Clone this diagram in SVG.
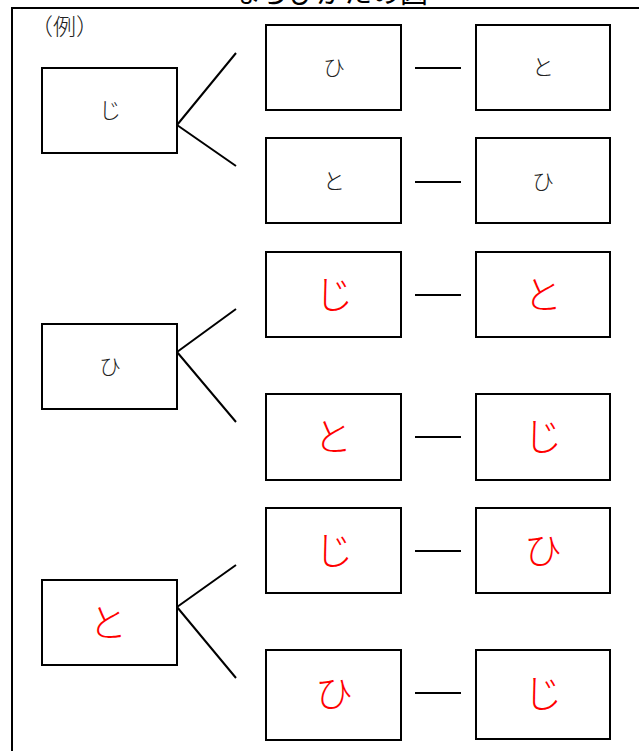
<svg xmlns="http://www.w3.org/2000/svg" width="639" height="751" viewBox="0 0 639 751">
<style>
.box{fill:#fff;stroke:#000;stroke-width:2}
.ln{stroke:#000;stroke-width:2;fill:none}
.k{font-family:"Noto Sans CJK JP","Noto Sans CJK SC",sans-serif;font-size:22px;fill:#222;text-anchor:middle;font-weight:300}
.r{font-family:"Noto Sans CJK JP","Noto Sans CJK SC",sans-serif;font-size:38px;fill:#f00;text-anchor:middle;font-weight:300}
.t{font-family:"Noto Sans CJK JP","Noto Sans CJK SC",sans-serif;font-size:23px;fill:#222;font-weight:300}
</style>
<rect width="639" height="751" fill="#fff"/>
<text x="330" y="3" font-family="Noto Sans CJK JP,sans-serif" font-size="28" text-anchor="middle" fill="#000">ならびかたの図</text>
<path class="ln" d="M12,751 V8 H639"/>
<text class="t" x="30" y="35">（例）</text>
<g id="connectors">
<path class="ln" d="M177,125 L236,53 M177,125 L236,166"/>
<path class="ln" d="M177,352 L236,309 M177,352 L236,422"/>
<path class="ln" d="M177,607 L236,565 M177,607 L236,678"/>
<path class="ln" d="M415,68 H461 M415,182 H461 M415,295 H461 M415,437 H461 M415,551 H461 M415,693 H461"/>
</g>
<g id="n-ji"><rect class="box" x="42" y="68" width="135" height="85"/><text class="k" x="110" y="118">じ</text></g>
<g id="n-hi"><rect class="box" x="42" y="324" width="135" height="85"/><text class="k" x="110" y="374">ひ</text></g>
<g id="n-to"><rect class="box" x="42" y="580" width="135" height="85"/><text class="r" x="108" y="636">と</text></g>
<g id="r1a"><rect class="box" x="266" y="25" width="135" height="85"/><text class="k" x="334" y="75">ひ</text></g>
<g id="r1b"><rect class="box" x="476" y="25" width="134" height="85"/><text class="k" x="543" y="75">と</text></g>
<g id="r2a"><rect class="box" x="266" y="138" width="135" height="85"/><text class="k" x="334" y="189">と</text></g>
<g id="r2b"><rect class="box" x="476" y="138" width="134" height="85"/><text class="k" x="543" y="189">ひ</text></g>
<g id="r3a"><rect class="box" x="266" y="252" width="135" height="85"/><text class="r" x="334" y="308">じ</text></g>
<g id="r3b"><rect class="box" x="476" y="252" width="134" height="85"/><text class="r" x="543" y="308">と</text></g>
<g id="r4a"><rect class="box" x="266" y="394" width="135" height="86"/><text class="r" x="333" y="450">と</text></g>
<g id="r4b"><rect class="box" x="476" y="394" width="134" height="86"/><text class="r" x="543" y="450">じ</text></g>
<g id="r5a"><rect class="box" x="266" y="508" width="135" height="85"/><text class="r" x="334" y="564">じ</text></g>
<g id="r5b"><rect class="box" x="476" y="508" width="134" height="85"/><text class="r" x="543" y="564">ひ</text></g>
<g id="r6a"><rect class="box" x="266" y="650" width="135" height="90"/><text class="r" x="334" y="707">ひ</text></g>
<g id="r6b"><rect class="box" x="476" y="650" width="134" height="89"/><text class="r" x="543" y="707">じ</text></g>
</svg>
